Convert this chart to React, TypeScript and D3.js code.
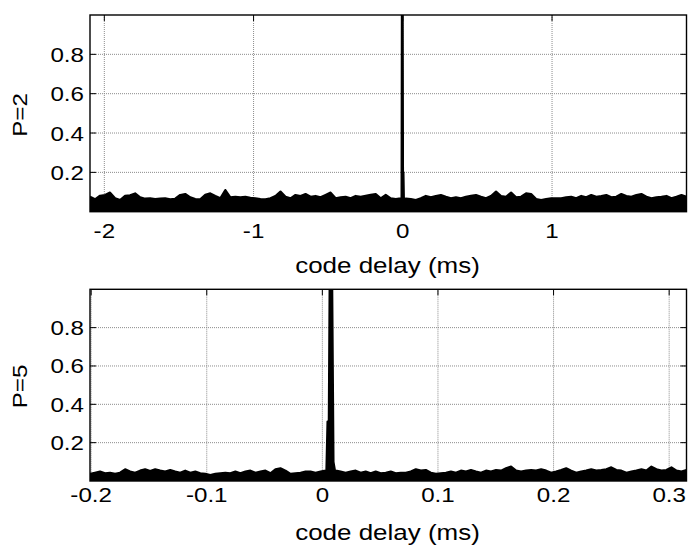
import React from 'react';
import * as d3 from 'd3';

// ---------- data ----------
const topXTicks = [-2, -1, 0, 1];
const topXTickLabels = ['-2', '-1', '0', '1'];
const bottomXTicks = [-0.2, -0.1, 0, 0.1, 0.2, 0.3];
const bottomXTickLabels = ['-0.2', '-0.1', '0', '0.1', '0.2', '0.3'];
const yTicks = [0.2, 0.4, 0.6, 0.8];
const yTickLabels = ['0.2', '0.4', '0.6', '0.8'];
const topXDomain = [-2.096, 1.901];
const bottomXDomain = [-0.201, 0.315];
const yDomain = [0, 1];

// upper envelope of the noise floor, evenly spaced over the x domain
const topNoise = [
  0.076, 0.063, 0.081, 0.085, 0.097, 0.068, 0.059, 0.080, 0.083, 0.093,
  0.073, 0.066, 0.068, 0.064, 0.066, 0.068, 0.063, 0.066, 0.085, 0.090,
  0.073, 0.064, 0.063, 0.086, 0.093, 0.080, 0.068, 0.110, 0.073, 0.076,
  0.073, 0.076, 0.071, 0.068, 0.064, 0.063, 0.068, 0.080, 0.102, 0.076,
  0.068, 0.085, 0.080, 0.090, 0.076, 0.080, 0.073, 0.085, 0.097, 0.068,
  0.073, 0.076, 0.068, 0.080, 0.076, 0.081, 0.086, 0.090, 0.068, 0.085,
  0.068, 0.064, 0.068, 0.066, 0.064, 0.059, 0.068, 0.080, 0.073, 0.080,
  0.085, 0.076, 0.068, 0.073, 0.068, 0.076, 0.081, 0.085, 0.076, 0.068,
  0.080, 0.102, 0.080, 0.076, 0.097, 0.073, 0.076, 0.093, 0.090, 0.064,
  0.059, 0.064, 0.068, 0.068, 0.068, 0.073, 0.076, 0.068, 0.080, 0.073,
  0.085, 0.076, 0.080, 0.085, 0.073, 0.076, 0.090, 0.080, 0.076, 0.085,
  0.090, 0.076, 0.068, 0.073, 0.076, 0.080, 0.068, 0.076, 0.085, 0.076,
];
const bottomNoise = [
  0.037, 0.043, 0.049, 0.040, 0.043, 0.037, 0.043, 0.061, 0.049, 0.043,
  0.054, 0.061, 0.052, 0.061, 0.054, 0.049, 0.057, 0.049, 0.043, 0.054,
  0.043, 0.049, 0.040, 0.037, 0.031, 0.037, 0.040, 0.043, 0.040, 0.049,
  0.040, 0.049, 0.054, 0.043, 0.049, 0.054, 0.040, 0.061, 0.066, 0.054,
  0.037, 0.040, 0.043, 0.049, 0.049, 0.043, 0.049, 0.054, 0.049, 0.054,
  0.049, 0.043, 0.049, 0.054, 0.043, 0.049, 0.040, 0.049, 0.040, 0.043,
  0.049, 0.040, 0.043, 0.043, 0.049, 0.061, 0.054, 0.057, 0.043, 0.037,
  0.040, 0.043, 0.049, 0.043, 0.054, 0.049, 0.057, 0.049, 0.043, 0.054,
  0.049, 0.057, 0.054, 0.066, 0.075, 0.054, 0.049, 0.054, 0.057, 0.054,
  0.061, 0.054, 0.043, 0.049, 0.057, 0.066, 0.054, 0.043, 0.049, 0.054,
  0.061, 0.054, 0.057, 0.061, 0.071, 0.057, 0.054, 0.043, 0.049, 0.054,
  0.061, 0.054, 0.075, 0.061, 0.054, 0.057, 0.071, 0.054, 0.049, 0.057,
];
// correlation peak
const topPeakX = [-0.008, -0.006, -0.001, 0.001, 0.004, 0.007];
const topPeakY = [0.068, 1.0, 1.0, 0.2, 0.2, 0.068];
const bottomPeakX = [0.0035, 0.0045, 0.0056, 0.0063, 0.0085, 0.0096, 0.011];
const bottomPeakY = [0.05, 0.31, 0.31, 1.0, 1.0, 0.1, 0.05];

const FONT = '"Liberation Sans", Arial, Helvetica, sans-serif';
const SX = 1.15;
const FS = 21;

type PanelProps = {
  id: string;
  top: number;
  bottom: number;
  xDomain: number[];
  xTicks: number[];
  xTickLabels: string[];
  noise: number[];
  peakX: number[];
  peakY: number[];
  yLabel: string;
  yLabelCenter: number;
  tickBaseline: number;
  xLabelBaseline: number;
};

const LEFT = 90;
const RIGHT = 686.5;

function Panel(p: PanelProps) {
  const x = d3.scaleLinear().domain(p.xDomain).range([LEFT, RIGHT]);
  const y = d3.scaleLinear().domain(yDomain).range([p.bottom, p.top]);
  const n = p.noise.length;
  const lo = p.peakX[0];
  const hi = p.peakX[p.peakX.length - 1];
  const pts: [number, number][] = [];
  p.noise.forEach((v, i) => {
    const xv = p.xDomain[0] + (i * (p.xDomain[1] - p.xDomain[0])) / (n - 1);
    if (xv < lo || xv > hi) pts.push([xv, v]);
  });
  p.peakX.forEach((xv, i) => pts.push([xv, p.peakY[i]]));
  pts.sort((a, b) => a[0] - b[0]);
  const area = d3
    .area<[number, number]>()
    .x((d) => x(d[0]))
    .y0(y(0))
    .y1((d) => y(d[1]));
  const line = d3
    .line<[number, number]>()
    .x((d) => x(d[0]))
    .y((d) => y(d[1]));
  const tl = 6;
  const grid = '#8c8c8c';
  return (
    <g>
      <defs>
        <clipPath id={p.id}>
          <rect x={LEFT} y={p.top} width={RIGHT - LEFT} height={p.bottom - p.top} />
        </clipPath>
      </defs>
      <rect x={LEFT} y={p.top} width={RIGHT - LEFT} height={p.bottom - p.top} fill="#fff" />
      {/* grid */}
      {p.xTicks.map((t) => (
        <line key={'gx' + t} x1={x(t)} x2={x(t)} y1={p.top} y2={p.bottom}
          stroke={grid} strokeWidth={1} strokeDasharray="1,1" />
      ))}
      {yTicks.map((t) => (
        <line key={'gy' + t} x1={LEFT} x2={RIGHT} y1={y(t)} y2={y(t)}
          stroke={grid} strokeWidth={1} strokeDasharray="1,1" />
      ))}
      {/* data */}
      <g clipPath={`url(#${p.id})`}>
        <path d={area(pts) || ''} fill="#000" />
        <path d={line(pts) || ''} fill="none" stroke="#000" strokeWidth={2.2} strokeLinejoin="round" />
      </g>
      {/* ticks */}
      {p.xTicks.map((t) => (
        <g key={'tx' + t}>
          <line x1={x(t)} x2={x(t)} y1={p.top} y2={p.top + tl} stroke="#000" strokeWidth={1} />
          <line x1={x(t)} x2={x(t)} y1={p.bottom} y2={p.bottom - tl} stroke="#000" strokeWidth={1} />
        </g>
      ))}
      {yTicks.map((t) => (
        <g key={'ty' + t}>
          <line x1={LEFT} x2={LEFT + tl} y1={y(t)} y2={y(t)} stroke="#000" strokeWidth={1} />
          <line x1={RIGHT} x2={RIGHT - tl} y1={y(t)} y2={y(t)} stroke="#000" strokeWidth={1} />
        </g>
      ))}
      <rect x={LEFT} y={p.top} width={RIGHT - LEFT} height={p.bottom - p.top}
        fill="none" stroke="#000" strokeWidth={1.4} />
      {/* tick labels */}
      {p.xTicks.map((t, i) => (
        <text key={'lx' + t} transform={`translate(${x(t)},${p.tickBaseline}) scale(${SX},1)`}
          textAnchor="middle" fontFamily={FONT} fontSize={FS} fill="#000">
          {p.xTickLabels[i]}
        </text>
      ))}
      {yTicks.map((t, i) => (
        <text key={'ly' + t} transform={`translate(84,${y(t) + 7.5}) scale(${SX},1)`}
          textAnchor="end" fontFamily={FONT} fontSize={FS} fill="#000">
          {yTickLabels[i]}
        </text>
      ))}
      <text transform={`translate(387.5,${p.xLabelBaseline}) scale(1.18,1)`} textAnchor="middle"
        fontFamily={FONT} fontSize={22} fill="#000">
        code delay (ms)
      </text>
      <text transform={`translate(27,${p.yLabelCenter}) rotate(-90) scale(${SX},1)`} textAnchor="middle"
        fontFamily={FONT} fontSize={FS} fill="#000">
        {p.yLabel}
      </text>
    </g>
  );
}

export default function App() {
  return (
    <svg width={690} height={546} style={{ position: 'absolute', left: 0, top: 0, background: '#fff' }}>
      <rect x={0} y={0} width={690} height={546} fill="#fff" />
      <Panel id="c1" top={15} bottom={211.7} xDomain={topXDomain} xTicks={topXTicks}
        xTickLabels={topXTickLabels} noise={topNoise} peakX={topPeakX} peakY={topPeakY}
        yLabel="P=2" yLabelCenter={115} tickBaseline={237.5} xLabelBaseline={273} />
      <Panel id="c2" top={289.3} bottom={481} xDomain={bottomXDomain} xTicks={bottomXTicks}
        xTickLabels={bottomXTickLabels} noise={bottomNoise} peakX={bottomPeakX} peakY={bottomPeakY}
        yLabel="P=5" yLabelCenter={386.5} tickBaseline={501.5} xLabelBaseline={540} />
    </svg>
  );
}
